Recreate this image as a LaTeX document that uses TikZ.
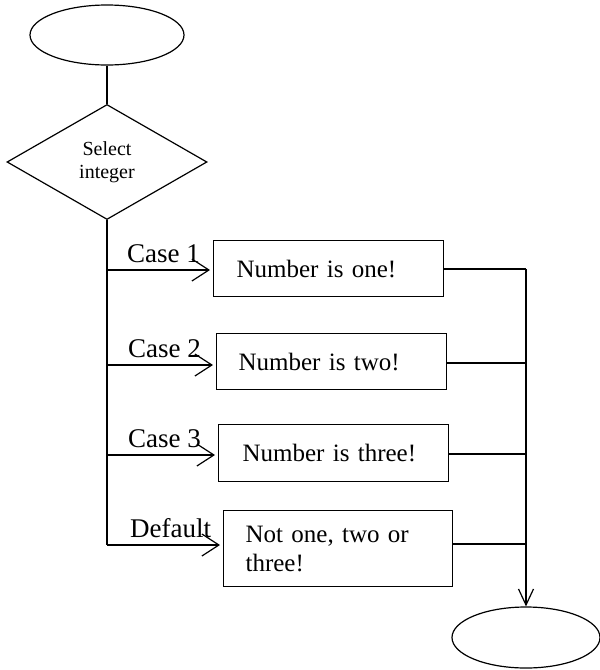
\documentclass[tikz,border=0pt]{standalone}
\usepackage{fontspec}
\setmainfont{Liberation Serif}
\usetikzlibrary{shapes.geometric,arrows.meta}
\begin{document}
\begin{tikzpicture}[x=1pt,y=-1pt,
 line/.style={line width=1.2pt,black},
 term/.style={ellipse,draw,line width=1.2pt,inner sep=0pt},
 dec/.style={diamond,draw,line width=1.2pt,inner sep=0pt,minimum width=200pt,minimum height=115pt,font=\fontsize{20}{23}\selectfont,align=center},
 procbox/.style={draw,line width=1.2pt,anchor=north west,inner ysep=0pt,font=\fontsize{25}{29}\selectfont,align=left},
 lab/.style={anchor=base west,inner sep=0pt,font=\fontsize{27}{30}\selectfont},
 barb/.style={-{Straight Barb[length=17pt,width=22pt]}},
 downbarb/.style={-{Straight Barb[length=16pt,width=15pt]}},
]
\useasboundingbox (0,0) rectangle (600,670);
% terminals and decision
\node[term,minimum width=154pt,minimum height=60pt] (start) at (107,35) {};
\node[dec] (sel) at (107,162) {Select\\integer};
\node[term,minimum width=148pt,minimum height=61pt] (stop) at (526,637.5) {};
% process boxes
\node[procbox,minimum width=230pt,minimum height=56pt,inner xsep=23pt,text width=184pt] (b1) at (213,240) {Number is one!};
\node[procbox,minimum width=230pt,minimum height=56pt,inner xsep=22pt,text width=186pt] (b2) at (216,333) {Number is two!};
\node[procbox,minimum width=230pt,minimum height=57pt,inner xsep=24pt,text width=182pt] (b3) at (218,424) {Number is three!};
\node[procbox,minimum width=229pt,minimum height=76pt,inner xsep=22pt,text width=185pt] (b4) at (223,510) {Not one, two or\\three!};
% spine coordinates
\coordinate (s1) at (107,270);
\coordinate (s2) at (107,365);
\coordinate (s3) at (107,455);
\coordinate (s4) at (107,545);
\coordinate (r1) at (526,269);
\coordinate (r2) at (526,363);
\coordinate (r3) at (526,454);
\coordinate (r4) at (526,544);
% connectors
\draw[line] (start) -- (sel);
\draw[line] (sel.south) -- (s4);
\draw[line,barb,shorten >=3pt] (s1) -- (s1 -| b1.west);
\draw[line,barb,shorten >=3pt] (s2) -- (s2 -| b2.west);
\draw[line,barb,shorten >=3pt] (s3) -- (s3 -| b3.west);
\draw[line,barb,shorten >=3pt] (s4) -- (s4 -| b4.west);
\draw[line] (b1.east |- r1) -- (r1);
\draw[line] (b2.east |- r2) -- (r2);
\draw[line] (b3.east |- r3) -- (r3);
\draw[line] (b4.east |- r4) -- (r4);
\draw[line,downbarb] (r1) -- (stop.north);
% labels
\node[lab] (l1) at (127,262) {Case 1};
\node[lab] (l2) at (128,357) {Case 2};
\node[lab] (l3) at (128,447) {Case 3};
\node[lab] (l4) at (130,537) {Default};
\end{tikzpicture}
\end{document}
